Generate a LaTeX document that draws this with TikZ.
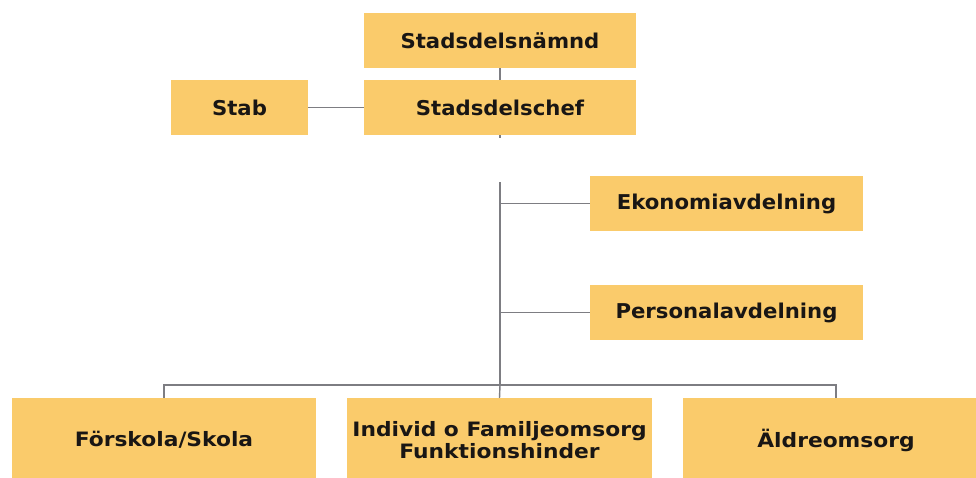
\documentclass[tikz,border=0pt]{standalone}
\usepackage{fontspec}
\newfontfamily\topfont{DejaVu Sans}[FakeStretch=1.04]
\newfontfamily\botfont{DejaVu Sans}[FakeStretch=1.1]
\definecolor{boxfill}{RGB}{250,203,107}
\definecolor{linegray}{RGB}{125,125,130}
\definecolor{txt}{RGB}{25,22,20}
\tikzset{
  orgbox/.style={fill=boxfill, draw=none, inner sep=0pt, text=txt,
    font=\topfont\bfseries\fontsize{20.4}{24}\selectfont},
  topbox/.style={orgbox, minimum width=272pt, minimum height=55pt},
  botbox/.style={orgbox, minimum width=305pt, minimum height=84pt, align=center,
    font=\botfont\bfseries\fontsize{19.8}{22}\selectfont},
  conn/.style={draw=linegray, line width=1.4pt}
}
\begin{document}
\begin{tikzpicture}[x=1pt,y=-1pt]
\useasboundingbox (0,0) rectangle (976,477);
\clip (0,0) rectangle (976,477);
\node[topbox] (nam) at (500,40.5) {Stadsdelsnämnd};
\node[topbox] (chef) at (500,107.5) {Stadsdelschef};
\node[topbox, minimum width=137pt] (stab) at (239.5,107.5) {Stab};
\node[topbox, minimum width=273pt] (eko) at (726.5,203.5) {Ekonomiavdelning};
\node[topbox, minimum width=273pt] (pers) at (726.5,312.5) {Personalavdelning};
\node[botbox, minimum width=304pt] (fsk) at (164,440) {Förskola/Skola};
\node[botbox] (ifo) at (499.5,440) {Individ o Familjeomsorg\\Funktionshinder};
\node[botbox, minimum width=306pt] (ald) at (836,440) {Äldreomsorg};
\coordinate (stub) at (500,138);
\coordinate (trunk) at (500,182);
\coordinate (bus) at (500,385);
\draw[conn] (nam.south) -- (chef.north);
\draw[conn] (stab.east) -- (chef.west);
\draw[conn] (chef.south) -- (stub);
\draw[conn] (trunk) -- (bus);
\draw[conn] (eko.west -| trunk) -- (eko.west);
\draw[conn] (pers.west -| trunk) -- (pers.west);
\draw[conn] (fsk.north) -- (fsk.north |- bus) -- (ald.north |- bus) -- (ald.north);
\draw[conn] (bus) -- (ifo.north);
\end{tikzpicture}
\end{document}
